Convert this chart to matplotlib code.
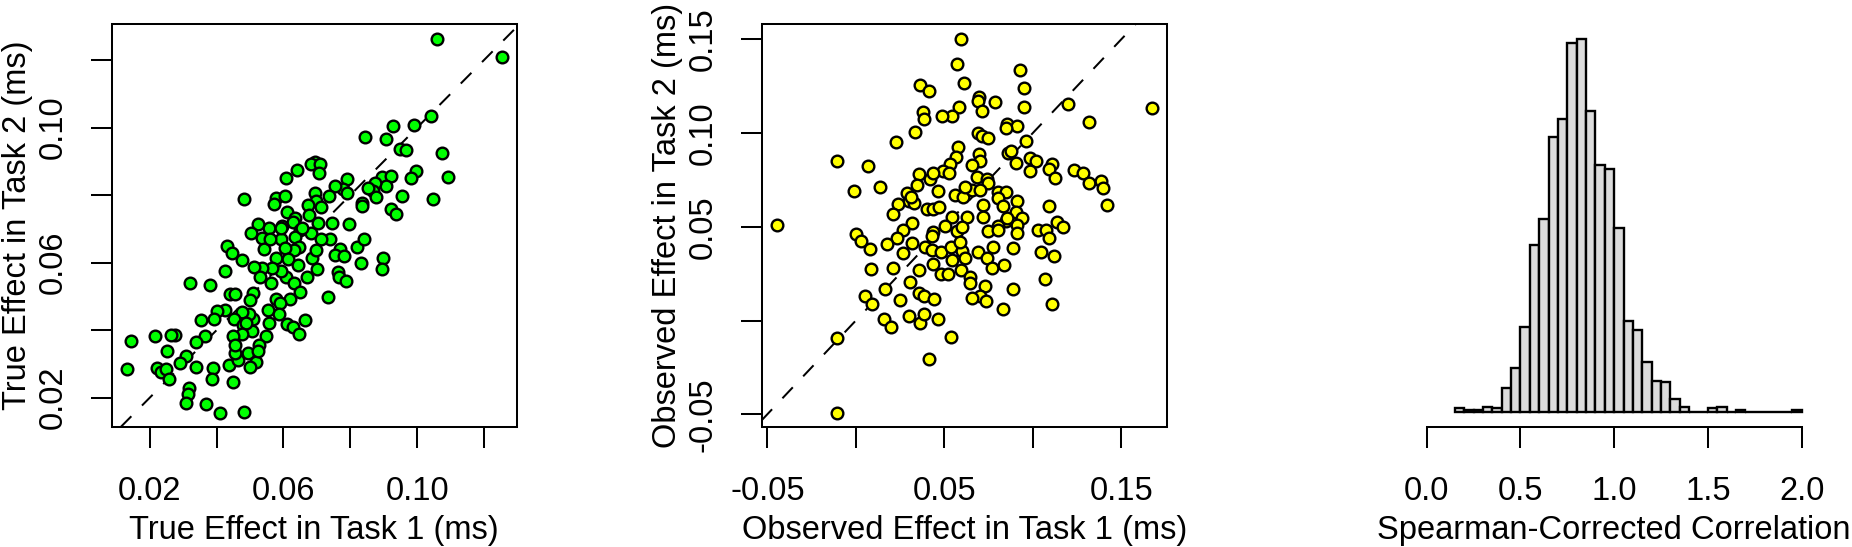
import numpy as np
import matplotlib
matplotlib.use("Agg")
import matplotlib.pyplot as plt

plt.rcParams['font.family'] = ['Liberation Sans', 'DejaVu Sans']

# ---------------- data ----------------
true_task1 = [0.1060, 0.1254, 0.1041, 0.0992, 0.0927, 0.0845, 0.0906, 0.0948, 0.0968, 0.1073,
              0.0998, 0.1091, 0.0896, 0.0921, 0.0983, 0.1048, 0.0955, 0.0907, 0.0873, 0.0868,
              0.0878, 0.0853, 0.0834, 0.0836, 0.0921, 0.0938, 0.0789, 0.0778, 0.0790, 0.0753,
              0.0737, 0.0693, 0.0682, 0.0708, 0.0707, 0.0642, 0.0608, 0.0481, 0.0579, 0.0605,
              0.0573, 0.0693, 0.0698, 0.0674, 0.0713, 0.0677, 0.0612, 0.0636, 0.0630, 0.0597,
              0.0556, 0.0524, 0.0504, 0.0537, 0.0592, 0.0541, 0.0649, 0.0682, 0.0703, 0.0745,
              0.0795, 0.0739, 0.0713, 0.0636, 0.0646, 0.0631, 0.0604, 0.0432, 0.0445, 0.0475,
              0.0579, 0.0614, 0.0644, 0.0686, 0.0698, 0.0768, 0.0754, 0.0781, 0.0819, 0.0841,
              0.0832, 0.0898, 0.0895, 0.0762, 0.0766, 0.0788, 0.0699, 0.0671, 0.0609, 0.0594,
              0.0567, 0.0536, 0.0512, 0.0529, 0.0564, 0.0631, 0.0424, 0.0320, 0.0381, 0.0439,
              0.0454, 0.0509, 0.0499, 0.0579, 0.0619, 0.0589, 0.0649, 0.0732, 0.0554, 0.0586,
              0.0664, 0.0612, 0.0628, 0.0647, 0.0557, 0.0548, 0.0507, 0.0509, 0.0497, 0.0475,
              0.0451, 0.0424, 0.0400, 0.0393, 0.0352, 0.0479, 0.0489, 0.0476, 0.0449, 0.0366,
              0.0337, 0.0274, 0.0264, 0.0215, 0.0143, 0.0252, 0.0308, 0.0289, 0.0339, 0.0388,
              0.0387, 0.0436, 0.0449, 0.0464, 0.0454, 0.0454, 0.0494, 0.0519, 0.0527, 0.0524,
              0.0501, 0.0133, 0.0222, 0.0235, 0.0248, 0.0257, 0.0318, 0.0315, 0.0308, 0.0367,
              0.0409, 0.0481, 0.0654, 0.0559, 0.0594]
true_task2 = [0.1263, 0.1209, 0.1033, 0.1008, 0.1006, 0.0971, 0.0966, 0.0938, 0.0935, 0.0925,
              0.0871, 0.0854, 0.0854, 0.0857, 0.0852, 0.0789, 0.0796, 0.0826, 0.0837, 0.0813,
              0.0795, 0.0822, 0.0777, 0.0768, 0.0758, 0.0745, 0.0848, 0.0818, 0.0805, 0.0828,
              0.0797, 0.0899, 0.0892, 0.0891, 0.0867, 0.0874, 0.0851, 0.0788, 0.0792, 0.0797,
              0.0773, 0.0807, 0.0783, 0.0771, 0.0766, 0.0741, 0.0750, 0.0731, 0.0719, 0.0708,
              0.0703, 0.0715, 0.0687, 0.0672, 0.0669, 0.0640, 0.0697, 0.0689, 0.0716, 0.0716,
              0.0713, 0.0669, 0.0669, 0.0677, 0.0647, 0.0637, 0.0642, 0.0650, 0.0630, 0.0608,
              0.0613, 0.0610, 0.0593, 0.0615, 0.0637, 0.0639, 0.0624, 0.0620, 0.0645, 0.0669,
              0.0598, 0.0615, 0.0580, 0.0571, 0.0558, 0.0546, 0.0580, 0.0557, 0.0558, 0.0576,
              0.0583, 0.0583, 0.0586, 0.0558, 0.0539, 0.0539, 0.0575, 0.0539, 0.0534, 0.0506,
              0.0506, 0.0509, 0.0489, 0.0491, 0.0491, 0.0479, 0.0514, 0.0497, 0.0460, 0.0448,
              0.0430, 0.0418, 0.0410, 0.0388, 0.0420, 0.0384, 0.0397, 0.0433, 0.0448, 0.0455,
              0.0432, 0.0460, 0.0457, 0.0433, 0.0430, 0.0415, 0.0420, 0.0389, 0.0383, 0.0384,
              0.0366, 0.0385, 0.0386, 0.0383, 0.0369, 0.0339, 0.0323, 0.0304, 0.0290, 0.0287,
              0.0255, 0.0297, 0.0246, 0.0312, 0.0333, 0.0356, 0.0331, 0.0307, 0.0356, 0.0339,
              0.0290, 0.0285, 0.0289, 0.0277, 0.0284, 0.0256, 0.0228, 0.0210, 0.0185, 0.0180,
              0.0154, 0.0156, 0.0704, 0.0669, 0.0704]

obs_task1 = [0.0595, 0.0574, 0.0613, 0.0365, 0.0415, 0.0928, 0.0952, 0.0950, 0.0694, 0.0691,
             0.0714, 0.0786, 0.0585, 0.0545, 0.0487, 0.0379, 0.0383, 0.0334, 0.0225, 0.1201,
             0.1672, 0.1319, 0.0963, 0.0853, 0.0910, 0.0849, 0.0689, 0.0714, 0.0749, 0.0580,
             0.0564, 0.0532, 0.0495, 0.0527, 0.0696, 0.0702, 0.0655, 0.0858, 0.0877, 0.0904,
             0.0984, 0.1019, 0.0984, 0.1107, 0.1094, 0.1125, 0.1233, 0.1286, 0.1319, 0.1386,
             0.1395, 0.1420, -0.0106, 0.0071, 0.0139, -0.0008, -0.0444, 0.0359, 0.0344, 0.0419,
             0.0462, 0.0291, 0.0302, 0.0329, 0.0240, 0.0212, 0.0404, 0.0434, 0.0469, 0.0560,
             0.0608, 0.0655, 0.0683, 0.0744, 0.0749, 0.0702, 0.0805, 0.0847, 0.0805, 0.0829,
             0.0719, 0.0716, 0.0910, 0.0904, 0.0941, 0.0910, 0.0910, 0.0849, 0.0805, 0.0749,
             0.0626, 0.0545, 0.0504, 0.0569, 0.0602, 0.0434, 0.0429, 0.0316, 0.0265, 0.0231,
             0.0174, 0.0265, 0.0316, 0.0001, 0.0029, 0.0080, 0.0084, 0.0208, 0.0390, 0.0429,
             0.0479, 0.0537, 0.0541, 0.0602, 0.0617, 0.0434, 0.0359, 0.0481, 0.0523, 0.0593,
             0.0645, 0.0645, 0.0692, 0.0744, 0.0777, 0.0771, 0.0838, 0.0890, 0.0729, 0.0702,
             0.0655, 0.0734, 0.0890, 0.0830, 0.1046, 0.1118, 0.1069, 0.1107, 0.1031, 0.1074,
             0.1092, 0.1139, 0.1170, 0.1090, 0.0305, 0.0359, 0.0385, 0.0443, 0.0250, 0.0165,
             0.0051, 0.0089, 0.0302, 0.0362, 0.0385, 0.0466, 0.0161, 0.0198, 0.0538, 0.0415,
             -0.0108, -0.0104, 0.0438, 0.0310, 0.0617, 0.0853, 0.0589, 0.0805]
obs_task2 = [0.1504, 0.1368, 0.1265, 0.1254, 0.1222, 0.1338, 0.1240, 0.1137, 0.1190, 0.1173,
             0.1118, 0.1166, 0.1141, 0.1091, 0.1091, 0.1110, 0.1077, 0.1006, 0.0954, 0.1155,
             0.1135, 0.1057, 0.0957, 0.1046, 0.1039, 0.1029, 0.0999, 0.0984, 0.0974, 0.0924,
             0.0874, 0.0835, 0.0800, 0.0785, 0.0888, 0.0851, 0.0830, 0.0895, 0.0906, 0.0842,
             0.0865, 0.0851, 0.0800, 0.0833, 0.0806, 0.0762, 0.0803, 0.0785, 0.0735, 0.0746,
             0.0705, 0.0618, 0.0849, 0.0826, 0.0714, 0.0689, 0.0512, 0.0780, 0.0723, 0.0755,
             0.0693, 0.0682, 0.0639, 0.0628, 0.0620, 0.0568, 0.0595, 0.0593, 0.0607, 0.0670,
             0.0661, 0.0696, 0.0768, 0.0753, 0.0732, 0.0696, 0.0687, 0.0686, 0.0652, 0.0611,
             0.0616, 0.0554, 0.0638, 0.0577, 0.0545, 0.0510, 0.0465, 0.0531, 0.0504, 0.0477,
             0.0550, 0.0550, 0.0504, 0.0477, 0.0500, 0.0474, 0.0451, 0.0519, 0.0483, 0.0439,
             0.0409, 0.0359, 0.0415, 0.0462, 0.0426, 0.0380, 0.0277, 0.0282, 0.0391, 0.0376,
             0.0364, 0.0394, 0.0323, 0.0373, 0.0332, 0.0302, 0.0270, 0.0246, 0.0246, 0.0270,
             0.0234, 0.0198, 0.0367, 0.0332, 0.0391, 0.0278, 0.0296, 0.0389, 0.0184, 0.0133,
             0.0122, 0.0104, 0.0167, 0.0060, 0.0367, 0.0346, 0.0220, 0.0087, 0.0483, 0.0483,
             0.0442, 0.0524, 0.0497, 0.0611, 0.0204, 0.0145, 0.0131, 0.0113, 0.0110, 0.0167,
             0.0133, 0.0088, 0.0024, -0.0015, 0.0035, 0.0006, 0.0006, -0.0036, -0.0086, -0.0207,
             -0.0095, -0.0495, 0.0785, 0.0657, 0.0714, 0.0545, 0.0421, 0.0483]

hist_left_edges = [0.15, 0.20, 0.25, 0.30, 0.35, 0.40, 0.45, 0.50, 0.55, 0.60,
                   0.65, 0.70, 0.75, 0.80, 0.85, 0.90, 0.95, 1.00, 1.05, 1.10,
                   1.15, 1.20, 1.25, 1.30, 1.35, 1.40, 1.45, 1.50, 1.55, 1.60,
                   1.65, 1.70, 1.75, 1.80, 1.85, 1.90, 1.95]
hist_counts = [2, 1, 1, 3, 2, 13, 24, 46, 90, 104,
               148, 158, 199, 201, 162, 133, 131, 99, 49, 44,
               27, 17, 16, 7, 3, 0, 0, 2, 3, 0,
               1, 0, 0, 0, 0, 0, 1]
bin_width = 0.05

p1_ticks = [0.02, 0.04, 0.06, 0.08, 0.10, 0.12]
p1_labels = ["0.02", "", "0.06", "", "0.10", ""]
p2_ticks = [-0.05, 0.0, 0.05, 0.10, 0.15]
p2_xlabels = ["-0.05", "", "0.05", "", "0.15"]
p2_ylabels = ["-0.05", "", "0.05", "0.10", "0.15"]
p3_ticks = [0.0, 0.5, 1.0, 1.5, 2.0]
p3_labels = ["0.0", "0.5", "1.0", "1.5", "2.0"]

# ---------------- layout ----------------
W, H = 1852, 547
fig = plt.figure(figsize=(W / 100, H / 100), dpi=100)
box_top, box_bot = 24, 427
box_w = 405
lefts = [111.7, 761.7, 1411.7]
FS = 23.5
LW = 1.45
TICKLEN = 15
MS = 8.4
MEW = 1.7
axes = []
for l in lefts:
    ax = fig.add_axes([l / W, 1 - box_bot / H, box_w / W, (box_bot - box_top) / H])
    axes.append(ax)


def style_axis(ax):
    for s in ax.spines.values():
        s.set_linewidth(LW)
    ax.tick_params(axis='both', direction='out', length=TICKLEN, width=LW,
                   labelsize=FS)
    ax.tick_params(axis='x', pad=20.5)
    ax.tick_params(axis='y', pad=16)


# ---------------- panel 1 ----------------
ax = axes[0]
style_axis(ax)
ax.axline((0, 0), slope=1, color='black', lw=LW, dashes=(7.5, 7.5), zorder=1)
ax.plot(true_task1, true_task2, linestyle='none', marker='o', ms=MS,
        mfc='#00FF00', mec='black', mew=MEW, zorder=2)
ax.set_xlim(0.0086, 0.1298)
ax.set_ylim(0.0113, 0.1307)
ax.set_xticks(p1_ticks)
ax.set_xticklabels(p1_labels)
ax.set_yticks(p1_ticks)
ax.set_yticklabels(p1_labels, rotation=90, va='center')
ax.set_xlabel("True Effect in Task 1 (ms)", fontsize=FS, va='center')
ax.set_ylabel("True Effect in Task 2 (ms)", fontsize=FS, va='center')

# ---------------- panel 2 ----------------
ax = axes[1]
style_axis(ax)
ax.axline((0, 0), slope=1, color='black', lw=LW, dashes=(7.5, 7.5), zorder=1)
ax.plot(obs_task1, obs_task2, linestyle='none', marker='o', ms=MS,
        mfc='#FFFF00', mec='black', mew=MEW, zorder=2)
ax.set_xlim(-0.0532, 0.1757)
ax.set_ylim(-0.0568, 0.1582)
ax.set_xticks(p2_ticks)
ax.set_xticklabels(p2_xlabels)
ax.set_yticks(p2_ticks)
ax.set_yticklabels(p2_ylabels, rotation=90, va='center')
ax.set_xlabel("Observed Effect in Task 1 (ms)", fontsize=FS, va='center')
ax.set_ylabel("Observed Effect in Task 2 (ms)", fontsize=FS, va='center')

# ---------------- panel 3 ----------------
ax = axes[2]
style_axis(ax)
ax.bar(hist_left_edges, hist_counts, width=bin_width, align='edge',
       color='#DCDCDC', edgecolor='black', linewidth=1.7)
M = max(hist_counts)
ax.set_ylim(-0.04 * M, 1.04 * M)
ax.set_xlim(-0.08, 2.08)
for side in ['top', 'right', 'left']:
    ax.spines[side].set_visible(False)
ax.spines['bottom'].set_bounds(0.0, 2.0)
ax.set_yticks([])
ax.set_xticks(p3_ticks)
ax.set_xticklabels(p3_labels)
ax.set_xlabel("Spearman-Corrected Correlation", fontsize=FS, va='center')

# label positions (axes coords)
ah = box_bot - box_top
for ax in axes:
    ax.xaxis.set_label_coords(0.5, (box_bot - 530.5) / ah)
for ax in axes[:2]:
    ax.yaxis.set_label_coords(-94.6 / box_w, 0.5)

fig.savefig("out.png", dpi=100)
